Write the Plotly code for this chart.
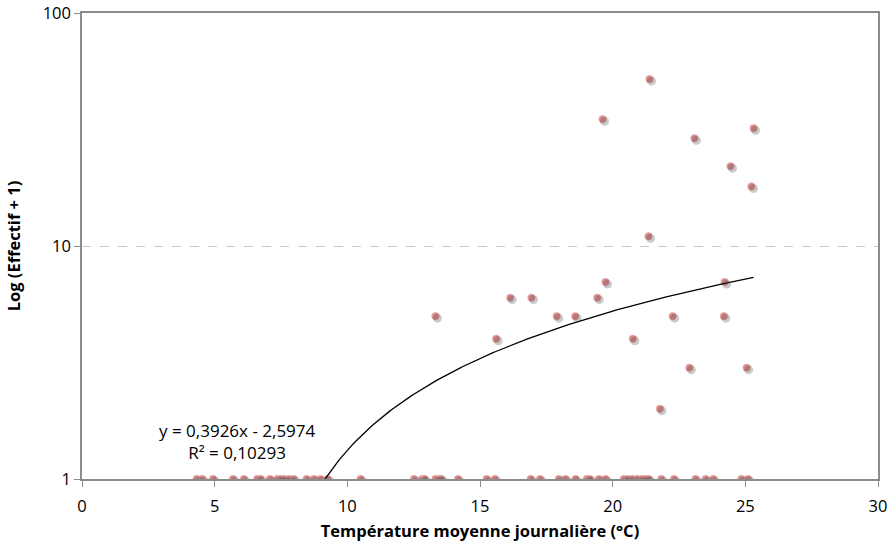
import numpy as np
import plotly.graph_objects as go

# Daily mean temperature (°C) and log-scale count (Effectif + 1)
temp_positive = [13.32, 15.61, 16.14, 16.94, 17.89, 18.59, 19.42, 19.73, 19.62,
                 20.76, 21.39, 21.35, 21.78, 22.26, 22.89, 23.08, 24.22, 24.19,
                 24.44, 25.05, 25.31, 25.23]
count_positive = [5, 4, 6, 6, 5, 5, 6, 7, 35,
                  4, 52, 11, 2, 5, 3, 29, 7, 5,
                  22, 3, 32, 18]

temp_zero = [4.32, 4.53, 4.94, 5.69, 6.10, 6.60, 6.73, 7.08, 7.36, 7.48, 7.61,
             7.80, 7.98, 8.46, 8.74, 8.99, 9.26, 10.50,
             12.51, 12.82, 12.91, 13.32, 13.45, 13.54, 14.17, 15.25, 15.56,
             16.91, 17.26, 17.97, 18.22, 18.60, 19.02, 19.14, 19.48, 19.73,
             20.42, 20.57, 20.74, 20.93, 21.11, 21.24, 21.36, 21.83, 22.31,
             23.12, 23.50, 23.79, 24.85, 25.10]
count_zero = [1] * len(temp_zero)

temps = temp_positive + temp_zero
counts = count_positive + count_zero

# Linear trend shown in the equation label
slope, intercept = 0.3926, -2.5974
r2 = 0.10293

x_ticks = [0, 5, 10, 15, 20, 25, 30]
y_ticks = [1, 10, 100]

x_start = (1 - intercept) / slope
trend_x = np.linspace(x_start, max(temps), 200)
trend_y = slope * trend_x + intercept

FONT = "'Open Sans', sans-serif"
AXIS_COLOR = "#8c8c8c"

fig = go.Figure()

# soft drop shadow under markers (drawn on a slightly shifted overlay axis)
fig.add_trace(go.Scatter(
    x=temps, y=counts, mode="markers", xaxis="x2", yaxis="y2",
    marker=dict(size=9, color="rgba(70,70,70,0.28)", line=dict(width=0)),
    hoverinfo="skip", showlegend=False,
))
fig.add_trace(go.Scatter(
    x=temps, y=counts, mode="markers",
    marker=dict(size=7.5, color="#df8a8a", line=dict(width=0.6, color="#eab0b0")),
    showlegend=False,
))
fig.add_trace(go.Scatter(
    x=trend_x, y=trend_y, mode="lines",
    line=dict(color="black", width=1.3),
    showlegend=False, hoverinfo="skip",
))

px_x = 30 / 796.0
px_ylog = 2 / 466.3
fig.update_layout(
    width=890, height=550,
    margin=dict(l=82, r=12, t=13, b=71),
    paper_bgcolor="white", plot_bgcolor="white",
    font=dict(family=FONT, size=17, color="black"),
    xaxis=dict(
        range=[0, 30], tickvals=x_ticks, ticktext=[str(v) for v in x_ticks],
        showgrid=False, zeroline=False, automargin=False,
        showline=True, linecolor=AXIS_COLOR, linewidth=1.5, mirror=True,
        ticks="outside", ticklen=6, tickcolor=AXIS_COLOR, tickwidth=1,
        ticklabelstandoff=5,
        tickfont=dict(size=16.5),
        title=dict(text="<b>Température moyenne journalière (°C)</b>",
                   font=dict(size=16.5), standoff=10),
    ),
    yaxis=dict(
        type="log", range=[0, 2], tickvals=y_ticks,
        ticktext=[str(v) for v in y_ticks], automargin=False,
        showgrid=True, gridcolor="#c8c8c8", griddash="dash", gridwidth=1,
        zeroline=False,
        showline=True, linecolor=AXIS_COLOR, linewidth=1.5, mirror=True,
        ticks="outside", ticklen=6, tickcolor=AXIS_COLOR, tickwidth=1,
        tickfont=dict(size=16.5),
        title=dict(text="<b>Log (Effectif + 1)</b>", font=dict(size=16.5),
                   standoff=18),
    ),
    xaxis2=dict(overlaying="x", range=[0 - 2 * px_x, 30 - 2 * px_x],
                visible=False),
    yaxis2=dict(overlaying="y", type="log",
                range=[0 + px_ylog * 2, 2 + px_ylog * 2], visible=False),
    annotations=[dict(
        x=5.86, y=0.163, xref="x", yref="y",
        text=f"y = {str(slope).replace('.', ',')}x - {str(-intercept).replace('.', ',')}"
             f"<br>R² = {str(r2).replace('.', ',')}",
        showarrow=False, font=dict(size=17, family=FONT), align="center",
    )],
)

fig.write_html("out.html")
